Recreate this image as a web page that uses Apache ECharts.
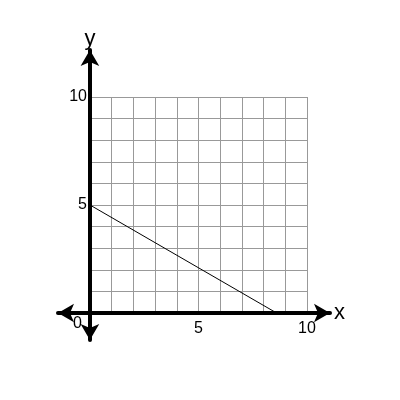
<!DOCTYPE html>
<html>
<head>
<meta charset="UTF-8">
<script src="https://cdn.jsdelivr.net/npm/echarts@6/dist/echarts.min.js"></script>
</head>
<body style="margin:0;background:#fff;">
<div id="container" style="width:400px;height:400px;"></div>
<script>
// line from y-intercept to x-intercept
var lineX = [0, 8.6];
var lineY = [5, 0];
var labelEvery = 5;

var myChart = echarts.init(document.getElementById('container'));
var lbl = function (v) { return v !== 0 && v % labelEvery === 0 ? String(v) : ''; };
var option = {
  animation: false,
  grid: [
    { left: 90, right: 93, top: 97, bottom: 87 },
    { left: 58, right: 70, top: 50, bottom: 60 }
  ],
  xAxis: [
    { gridIndex: 0, type: 'value', min: 0, max: 10, interval: 1,
      axisLine: { show: false }, axisTick: { show: false },
      splitLine: { lineStyle: { color: '#999', width: 1 } },
      axisLabel: { formatter: lbl, color: '#000', fontSize: 16, margin: 8, fontFamily: 'Liberation Sans' } },
    { gridIndex: 1, type: 'value', min: -1.47, max: 11.06,
      axisLine: { onZero: true, lineStyle: { color: '#000', width: 4 }, symbol: ['arrow', 'arrow'], symbolSize: [14, 16] },
      axisTick: { show: false }, axisLabel: { show: false }, splitLine: { show: false },
      name: 'x', nameGap: 4, nameTextStyle: { color: '#000', fontSize: 22, fontFamily: 'Liberation Sans' } }
  ],
  yAxis: [
    { gridIndex: 0, type: 'value', min: 0, max: 10, interval: 1,
      axisLine: { show: false }, axisTick: { show: false },
      splitLine: { lineStyle: { color: '#999', width: 1 } },
      axisLabel: { formatter: lbl, color: '#000', fontSize: 16, margin: 3, fontFamily: 'Liberation Sans' } },
    { gridIndex: 1, type: 'value', min: -1.25, max: 12.17,
      axisLine: { onZero: true, lineStyle: { color: '#000', width: 4 }, symbol: ['arrow', 'arrow'], symbolSize: [14, 16] },
      axisTick: { show: false }, axisLabel: { show: false }, splitLine: { show: false },
      name: 'y', nameGap: 0, nameTextStyle: { color: '#000', fontSize: 22, fontFamily: 'Liberation Sans', padding: [0, 0, 0, 0] } }
  ],
  graphic: [
    { type: 'text', left: 73, top: 316, style: { text: '0', fontSize: 16, fill: '#000', fontFamily: 'Liberation Sans' } }
  ],
  series: [{
    type: 'line', xAxisIndex: 0, yAxisIndex: 0, symbol: 'none',
    lineStyle: { color: '#000', width: 1 },
    data: lineX.map(function (x, i) { return [x, lineY[i]]; })
  }]
};
myChart.setOption(option);
</script>
</body>
</html>
